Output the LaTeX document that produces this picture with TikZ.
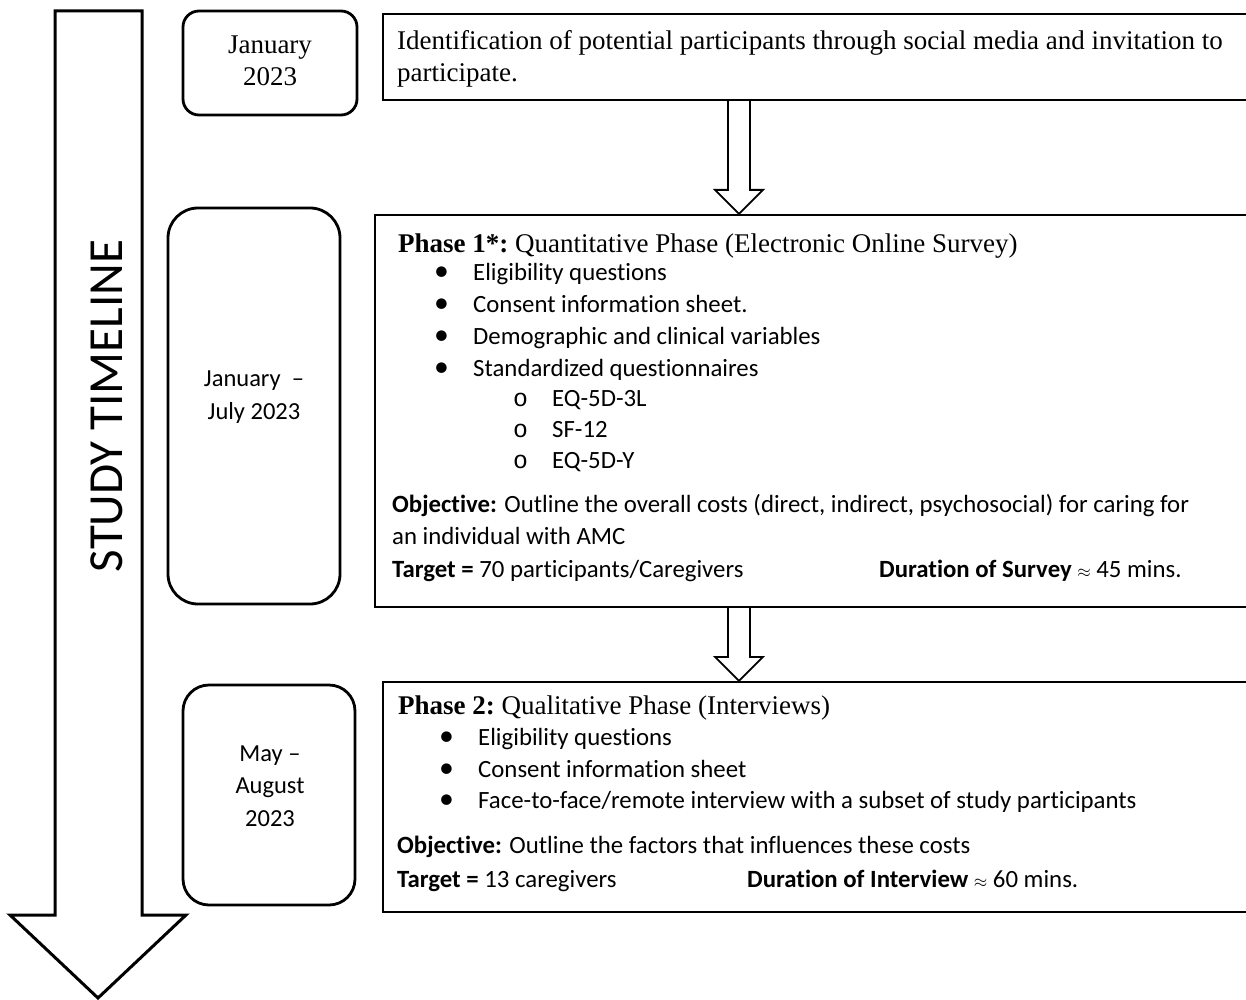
\documentclass[tikz,border=0pt]{standalone}
\usepackage{fontspec}
\setmainfont{Liberation Serif}
\setsansfont{Carlito}[Ligatures=NoCommon]
\newfontfamily\monof{Liberation Mono}
\usetikzlibrary{calc}
\tikzset{
  datebox/.style={draw, line width=2.8pt, rounded corners=#1, inner sep=0pt},
  phasebox/.style={draw, line width=2.2pt, inner sep=0pt},
  blk/.style={draw, line width=1.8pt, fill=white, line join=miter},
  tm/.style={font=\fontsize{27}{32}\selectfont\rmfamily, inner sep=0pt, anchor=base west},
  tmc/.style={font=\fontsize{27}{32}\selectfont\rmfamily, inner sep=0pt, align=center},
  sf/.style={font=\fontsize{24.8}{32}\selectfont\sffamily, inner sep=0pt, anchor=base west},
  sfc/.style={font=\fontsize{24.5}{32.5}\selectfont\sffamily, inner sep=0pt, align=center},
}
\newcommand\hollowarrow[2]{%
  \draw[blk] ($(#1)+(-11,0)$) -- ($(#2)+(-11,-24)$) -- ($(#2)+(-24,-24)$) -- (#2)
    -- ($(#2)+(24,-24)$) -- ($(#2)+(11,-24)$) -- ($(#1)+(11,0)$);}
\newcommand\apx{{\fontsize{17}{17}\selectfont$\approx$}}
\begin{document}
\begin{tikzpicture}[x=1pt,y=-1pt]
\useasboundingbox (0,0) rectangle (1246,1000);
\clip (0,0) rectangle (1246,1000);
\fill[white] (0,0) rectangle (1246,1000);

% big timeline arrow
\draw[line width=3pt, line join=miter] (55,11) -- (142,11) -- (142,915) -- (186,915) -- (98,998)
  -- (10,915) -- (55,915) -- cycle;
\node[font=\fontsize{49}{52}\selectfont\sffamily, rotate=90, inner sep=0pt] (tl) at (107,406) {STUDY TIMELINE};

% date boxes
\node[datebox=16pt, minimum width=174pt, minimum height=104pt] (d1) at (270,63) {};
\node[tmc] (d1t) at (270,61) {January\\2023};
\node[datebox=30pt, minimum width=172pt, minimum height=396pt] (d2) at (254,406) {};
\node[sfc] (d2t) at (254,397) {January\ \ --\\July 2023};
\node[datebox=26pt, minimum width=172pt, minimum height=220pt] (d3) at (269,795) {};
\node[sfc] (d3t) at (270,786) {May --\\August\\2023};

% phase boxes
\node[phasebox, minimum width=877pt, minimum height=86pt] (b1) at (821.5,57) {};
\node[phasebox, minimum width=885pt, minimum height=392pt] (b2) at (817.5,411) {};
\node[phasebox, minimum width=877pt, minimum height=230pt] (b3) at (821.5,797) {};

% connectors
\coordinate (ax) at (739,0);
\hollowarrow{ax |- b1.south}{ax |- b2.north}
\hollowarrow{ax |- b2.south}{ax |- b3.north}

% box 1 text
\node[tm] (t1a) at (397,50) {Identification of potential participants through social media and invitation to};
\node[tm] (t1b) at (397,82) {participate.};

% box 2 text
\node[tm] (p1) at (398,252) {\textbf{Phase 1*:}~Quantitative Phase (Electronic Online Survey)};
\foreach \y/\t [count=\i] in {280/{Eligibility questions}, 312/{Consent information sheet.}, 344/{Demographic and clinical variables}, 376/{Standardized questionnaires}}{
  \node[sf, scale=1.2] (p1b\i) at (434,\y) {•};
  \node[sf] (p1i\i) at (473,\y) {\t};
}
\foreach \y/\t [count=\i] in {406/{EQ-5D-3L}, 437/{SF-12}, 468/{EQ-5D-Y}}{
  \node[sf] (p1o\i) at (513,\y) {{\monof o}};
  \node[sf] (p1s\i) at (552,\y) {\t};
}
\node[sf] (p1obj) at (392,512) {\textbf{Objective:} Outline the overall costs (direct, indirect, psychosocial) for caring for};
\node[sf] (p1obj2) at (392,544) {an individual with AMC};
\node[sf] (p1tg) at (392,577) {\textbf{Target =} 70 participants/Caregivers};
\node[sf] (p1du) at (879,577) {\textbf{Duration of Survey} \apx{} 45 mins.};

% box 3 text
\node[tm] (p2) at (398,714) {\textbf{Phase 2:}~Qualitative Phase (Interviews)};
\foreach \y/\t [count=\i] in {745/{Eligibility questions}, 777/{Consent information sheet}, 808/{Face-to-face/remote interview with a subset of study participants}}{
  \node[sf, scale=1.2] (p2b\i) at (439,\y) {•};
  \node[sf] (p2i\i) at (478,\y) {\t};
}
\node[sf] (p2obj) at (397,853) {\textbf{Objective:} Outline the factors that influences these costs};
\node[sf] (p2tg) at (397,887) {\textbf{Target =} 13 caregivers};
\node[sf] (p2du) at (747,887) {\textbf{Duration of Interview} \apx{} 60 mins.};
\end{tikzpicture}
\end{document}
